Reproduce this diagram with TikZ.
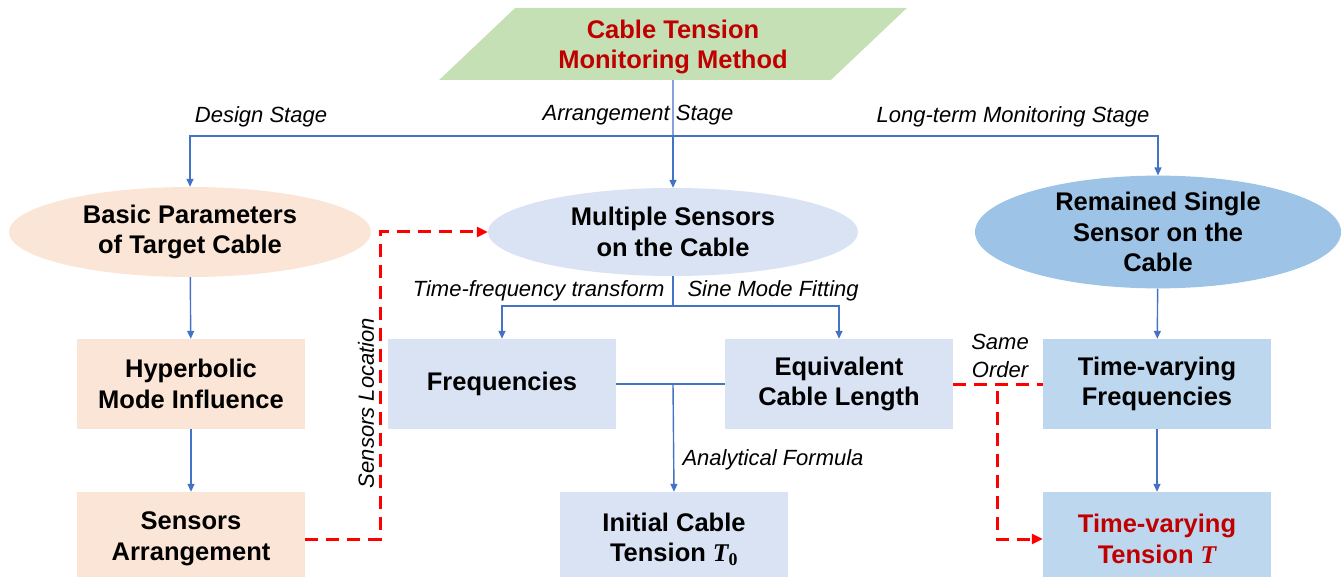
\documentclass[tikz,border=0pt]{standalone}
\usepackage{fontspec}
\setmainfont{Liberation Sans}
\newfontfamily\serifsym{Liberation Serif}
\usetikzlibrary{positioning,arrows.meta,shapes.geometric}
\definecolor{linkblue}{HTML}{4472C4}
\definecolor{peach}{HTML}{FBE5D6}
\definecolor{paleblue}{HTML}{DAE3F3}
\definecolor{midblue}{HTML}{BDD7EE}
\definecolor{deepblue}{HTML}{9DC3E6}
\definecolor{leafgreen}{HTML}{C5E0B4}
\definecolor{titlered}{HTML}{C00000}
\newcommand{\tens}{{\serifsym\bfseries\itshape T}}
\tikzset{
  flow/.style={draw=linkblue,line width=1.4pt,-{Triangle[length=8pt,width=7pt]}},
  cue/.style={draw=red,line width=3pt,dash pattern=on 13pt off 8pt,-{Triangle[length=11pt,width=10pt]}},
  block/.style={rectangle,minimum width=228,minimum height=90,align=center,inner sep=2pt},
  lowblock/.style={block,minimum height=94},
  oval/.style={ellipse,align=center,inner sep=0pt},
  tag/.style={font=\fontsize{22}{28}\selectfont\itshape}
}

\begin{document}
\begin{tikzpicture}[x=1pt,y=-1pt,font=\fontsize{25.5}{30.5}\selectfont\bfseries]
\useasboundingbox (0,0) rectangle (1341,577);

\node[trapezium,trapezium left angle=37,trapezium right angle=143,trapezium stretches=true,
  fill=leafgreen,minimum width=469,minimum height=72,inner sep=0pt] (method) at (673,44) {\phantom{Monitoring}};
\node[text=titlered,align=center] (title) at (673,47) {Cable Tension\\Monitoring Method};

% stage ovals
\node[oval,fill=peach,minimum width=362,minimum height=90] (params) at (190,232) {Basic Parameters\\of Target Cable};
\node[oval,fill=paleblue,minimum width=370,minimum height=88] (multi) at (673,232) {Multiple Sensors\\on the Cable};
\node[oval,fill=deepblue,minimum width=366,minimum height=102] (remain) at (1158,232) {Remained Single\\Sensor on the\\Cable};

% boxes
\node[block,fill=peach] (hyper) at (191,384) {Hyperbolic\\Mode Influence};
\node[lowblock,fill=peach] (arrange) at (191,539) {Sensors\\Arrangement};
\node[block,fill=paleblue] (freq) at (502,384) {Frequencies};
\node[block,fill=paleblue] (equiv) at (839,384) {Equivalent\\Cable Length};
\node[lowblock,fill=paleblue] (init) at (674,539) {Initial Cable\\Tension \tens\textsubscript{\serifsym\bfseries 0}};
\node[block,fill=midblue] (tvfreq) at (1157,384) {Time-varying\\Frequencies};
\node[lowblock,fill=midblue,text=titlered] (tvtension) at (1157,539) {Time-varying\\Tension \tens};

% stage branches
\coordinate (spine) at (673,136);
\draw[flow,-] (method.south) -- (spine);
\draw[flow] (spine) -| (params.north);
\draw[flow] (spine) -- (multi.north);
\draw[flow] (spine) -| (remain.north);
\node[tag] (design) at (261,117) {Design Stage};
\node[tag] (arrangement) at (638,115) {Arrangement Stage};
\node[tag] (longterm) at (1013,117) {Long-term Monitoring Stage};

\draw[flow] (params) -- (hyper);
\draw[flow] (hyper) -- (arrange);

\coordinate (fork) at (673,306);
\draw[flow,-] (multi.south) -- (fork);
\draw[flow] (fork) -| (freq.north);
\draw[flow] (fork) -| (equiv.north);
\node[tag,anchor=east] (tft) at (668,291) {Time-frequency transform};
\node[tag,anchor=west] (smf) at (684,291) {Sine Mode Fitting};

\draw[flow,-] (freq) -- (equiv);
\coordinate (join) at (673,384);
\draw[flow] (join) -- (init.north);
\node[tag,anchor=west] (formula) at (679,460) {Analytical Formula};

\draw[flow] (remain) -- (tvfreq);
\draw[flow] (tvfreq) -- (tvtension);

% red dashed links
\draw[cue] (arrange.east) -- ++(75,0) |- (multi.west);
\node[tag,rotate=90] (location) at (366,403) {Sensors Location};
\draw[cue,-] (equiv) -- (tvfreq);
\coordinate (split) at (997,391);
\draw[cue] (split) |- (tvtension.west);
\node[tag,align=center] (order) at (1000,356) {Same\\Order};
\end{tikzpicture}
\end{document}
